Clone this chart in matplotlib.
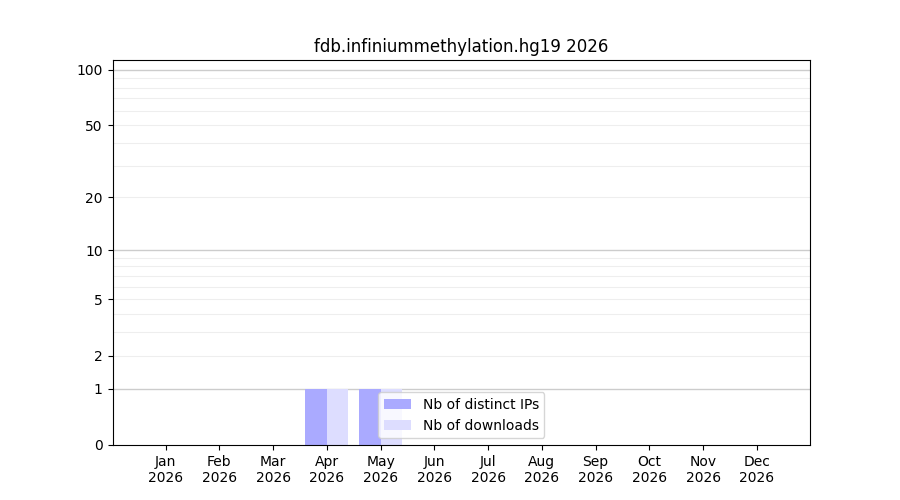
import numpy as np
import matplotlib
matplotlib.use("Agg")
import matplotlib.pyplot as plt
from matplotlib.ticker import FixedLocator, NullFormatter

months = ["Jan", "Feb", "Mar", "Apr", "May", "Jun", "Jul", "Aug", "Sep", "Oct", "Nov", "Dec"]
year = "2026"
distinct_ips = [0, 0, 0, 1, 1, 0, 0, 0, 0, 0, 0, 0]
downloads = [0, 0, 0, 1, 1, 0, 0, 0, 0, 0, 0, 0]
title = "fdb.infiniummethylation.hg19 2026"

fig, ax = plt.subplots(figsize=(9, 5), dpi=100)

def fwd(v):
    return np.log10(1 + np.asarray(v, dtype=float))

def inv(v):
    return 10 ** np.asarray(v, dtype=float) - 1

ax.set_yscale("function", functions=(fwd, inv))

x = np.arange(1, 13)
ax.bar(x, distinct_ips, width=-0.4, align="edge", color="#aaaaff", label="Nb of distinct IPs", zorder=2)
ax.bar(x, downloads, width=0.4, align="edge", color="#ddddff", label="Nb of downloads", zorder=2)

ax.set_ylim(0, 112.9)
major = [1, 10, 100]
minor = [2, 3, 4, 5, 6, 7, 8, 9, 20, 30, 40, 50, 60, 70, 80, 90]
for v in major:
    ax.axhline(v, color="#cccccc", lw=1, zorder=1)
for v in minor:
    ax.axhline(v, color="#eeeeee", lw=0.8, zorder=1)

yt = [0, 1, 2, 5, 10, 20, 50, 100]
ax.yaxis.set_major_locator(FixedLocator(yt))
ax.set_yticklabels([str(v) for v in yt])
ax.yaxis.set_minor_locator(FixedLocator([]))

ax.set_xticks(x)
ax.set_xticklabels([f"{m}\n{year}" for m in months])
ax.set_xlim(0.01, 12.99)
ax.set_title(title)
ax.legend(loc="lower center")

fig.savefig("out.png", dpi=100)
